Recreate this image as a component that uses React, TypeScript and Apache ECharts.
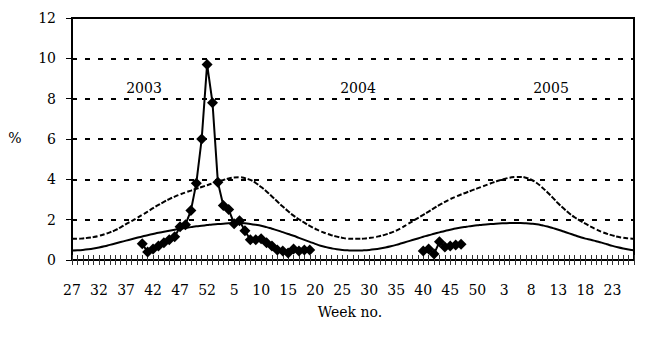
import React, { useEffect, useRef } from "react";
import * as echarts from "echarts";

const weeks: string[] = [
  "27","28","29","30","31","32","33","34","35","36","37","38","39","40","41","42","43","44","45","46","47","48","49","50","51","52",
  "1","2","3","4","5","6","7","8","9","10","11","12","13","14","15","16","17","18","19","20","21","22","23","24","25","26",
  "27","28","29","30","31","32","33","34","35","36","37","38","39","40","41","42","43","44","45","46","47","48","49","50","51","52",
  "1","2","3","4","5","6","7","8","9","10","11","12","13","14","15","16","17","18","19","20","21","22","23","24","25","26","27"
];

const thresholdCurve: number[] = [
  1.05,1.05,1.07,1.1,1.14,1.2,1.28,1.37,1.48,1.62,
  1.78,1.93,2.08,2.24,2.4,2.57,2.73,2.88,3.02,3.14,
  3.25,3.35,3.44,3.53,3.62,3.71,3.8,3.89,3.97,4.04,
  4.09,4.1,4.06,3.97,3.82,3.62,3.4,3.15,2.9,2.65,
  2.42,2.2,2.02,1.85,1.69,1.55,1.42,1.32,1.23,1.16,
  1.1,1.06,1.05,1.05,1.06,1.09,1.13,1.19,1.26,1.35,
  1.46,1.6,1.76,1.92,2.08,2.24,2.4,2.57,2.73,2.88,
  3.02,3.14,3.25,3.35,3.45,3.55,3.65,3.75,3.85,3.94,
  4.02,4.08,4.12,4.12,4.08,3.98,3.82,3.6,3.35,3.08,
  2.8,2.55,2.32,2.12,1.95,1.8,1.65,1.52,1.4,1.3,
  1.22,1.15,1.1,1.07,1.05
];

const baselineCurve: number[] = [
  0.47,0.48,0.5,0.53,0.57,0.62,0.68,0.75,0.82,0.89,
  0.96,1.03,1.1,1.17,1.23,1.29,1.35,1.4,1.45,1.5,
  1.55,1.59,1.63,1.67,1.7,1.73,1.76,1.78,1.8,1.82,
  1.83,1.83,1.82,1.79,1.75,1.7,1.63,1.55,1.47,1.38,
  1.29,1.2,1.1,1.0,0.9,0.8,0.71,0.64,0.58,0.53,
  0.5,0.48,0.47,0.47,0.48,0.5,0.53,0.57,0.62,0.68,
  0.75,0.83,0.91,0.99,1.07,1.15,1.23,1.3,1.37,1.44,
  1.5,1.56,1.61,1.65,1.69,1.72,1.75,1.77,1.79,1.81,
  1.82,1.83,1.83,1.83,1.82,1.8,1.77,1.72,1.66,1.58,
  1.5,1.41,1.32,1.23,1.14,1.06,1.0,0.93,0.86,0.78,
  0.7,0.63,0.57,0.52,0.48
];

const observed: (number | null)[] = [
  null,null,null,null,null,null,null,null,null,null,
  null,null,null,0.8,0.4,0.55,0.7,0.85,1.0,1.15,
  1.65,1.75,2.45,3.8,6.0,9.7,7.8,3.85,2.7,2.5,
  1.8,1.95,1.45,1.0,1.0,1.05,0.85,0.7,0.5,0.45,
  0.35,0.55,0.45,0.5,0.5,null,null,null,null,null,
  null,null,null,null,null,null,null,null,null,null,
  null,null,null,null,null,0.45,0.55,0.3,0.9,0.65,
  0.7,0.75,0.78,null,null,null,null,null,null,null,
  null,null,null,null,null,null,null,null,null,null,
  null,null,null,null,null,null,null,null,null,null,
  null,null,null,null,null
];

const yearLabels = [
  { text: "2003", x: 144 },
  { text: "2004", x: 358 },
  { text: "2005", x: 551 },
];

const FONT = "DejaVu Serif";

export default function App() {
  const ref = useRef<HTMLDivElement>(null);
  useEffect(() => {
    if (!ref.current) return;
    const chart = echarts.init(ref.current, undefined, { renderer: "svg" });
    chart.setOption({
      animation: false,
      backgroundColor: "#fff",
      textStyle: { fontFamily: FONT },
      grid: {
        left: 72,
        right: 14,
        top: 18,
        bottom: 82,
        show: true,
        borderColor: "#000",
        borderWidth: 2,
      },
      xAxis: [
        {
          type: "category",
          data: weeks,
          boundaryGap: false,
          axisLine: { lineStyle: { color: "#000", width: 2 } },
          axisTick: { show: true, interval: 0, length: 5, lineStyle: { color: "#333", width: 1 } },
          axisLabel: { interval: 4, margin: 23, color: "#000", fontFamily: FONT, fontSize: 14 },
          splitLine: { show: false },
        },
        {
          type: "category",
          data: weeks,
          boundaryGap: false,
          position: "bottom",
          axisLine: { show: false },
          axisTick: { show: true, inside: true, interval: 0, length: 5, lineStyle: { color: "#333", width: 1 } },
          axisLabel: { show: false },
          splitLine: { show: false },
        },
      ],
      yAxis: {
        type: "value",
        min: 0,
        max: 12,
        interval: 2,
        axisLine: { show: true, lineStyle: { color: "#000", width: 2 } },
        axisTick: { show: true, length: 6, lineStyle: { color: "#000", width: 1 } },
        axisLabel: { margin: 16, color: "#000", fontFamily: FONT, fontSize: 14 },
        splitLine: { show: true, lineStyle: { color: "#000", width: 2, type: [5, 8] } },
      },
      series: [
        {
          type: "line",
          data: thresholdCurve,
          showSymbol: false,
          symbol: "none",
          smooth: true,
          lineStyle: { color: "#000", width: 2, type: [5, 2] },
          z: 2,
        },
        {
          type: "line",
          data: baselineCurve,
          showSymbol: false,
          symbol: "none",
          smooth: true,
          lineStyle: { color: "#000", width: 2 },
          z: 2,
        },
        {
          type: "line",
          data: observed,
          connectNulls: false,
          showAllSymbol: true,
          symbol: "diamond",
          symbolSize: 11,
          itemStyle: { color: "#000" },
          lineStyle: { color: "#000", width: 2 },
          z: 3,
        },
      ],
      graphic: [
        ...yearLabels.map((y) => ({
          type: "text",
          x: y.x,
          y: 88,
          style: { text: y.text, font: `14px "${FONT}"`, fill: "#000", align: "center", verticalAlign: "middle" },
        })),
        {
          type: "text",
          x: 15,
          y: 138,
          style: { text: "%", font: `14px "${FONT}"`, fill: "#000", align: "center", verticalAlign: "middle" },
        },
        {
          type: "text",
          x: 350,
          y: 312,
          style: { text: "Week no.", font: `14px "${FONT}"`, fill: "#000", align: "center", verticalAlign: "middle" },
        },
      ],
    });
    return () => chart.dispose();
  }, []);
  return <div ref={ref} style={{ position: "fixed", left: 0, top: 0, width: 648, height: 342 }} />;
}
